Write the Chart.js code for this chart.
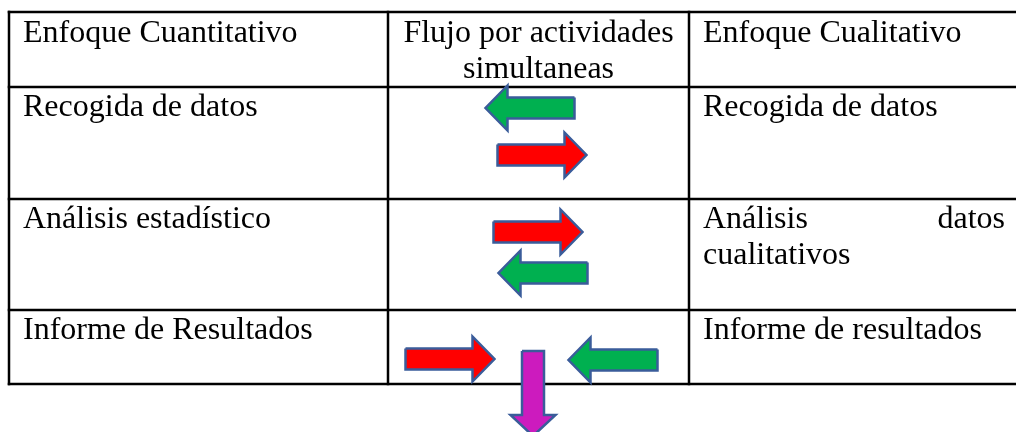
<!DOCTYPE html>
<html>
<head>
<meta charset="utf-8">
<script src="https://cdn.jsdelivr.net/npm/chart.js@4"></script>
<style>
  html, body { margin: 0; padding: 0; background: #fff; }
  #wrap { width: 1016px; height: 432px; }
</style>
</head>
<body>
<div id="wrap"><canvas id="flujoChart" width="1016" height="432"></canvas></div>
<script>
// contenido de la tabla
const encabezados = ['Enfoque Cuantitativo', 'Flujo por actividades simultaneas', 'Enfoque Cualitativo'];
const pasosCuantitativos = ['Recogida de datos', 'Análisis estadístico', 'Informe de Resultados'];
const pasosCualitativos = ['Recogida de datos', 'Análisis datos cualitativos', 'Informe de resultados'];
// sentido de las flechas en cada fila (columna central)
const flujos = [['izquierda', 'derecha'], ['derecha', 'izquierda'], ['derecha', 'izquierda']];
const flujoFinal = 'abajo';

// geometria (unidades de los ejes)
const colX = [9, 388, 689, 1020];
const rowY = [12, 87, 199, 310, 384];
const posFlechas = [
    [{ cx: 530, cy: 108 }, { cx: 542, cy: 155 }],
    [{ cx: 538, cy: 232 }, { cx: 543, cy: 273 }],
    [{ cx: 450, cy: 359 }, { cx: 613, cy: 360 }]
];
const posFinal = { cx: 533, top: 351, tip: 436 };

const colores = { derecha: '#FF0000', izquierda: '#00B050', abajo: '#CC1BBE' };
const borde = '#3A5C9A';

function flechaHorizontal(cx, cy, dir) {
    const len = 89, h = 10.5, H = 22.5, L = 22;
    const s = dir === 'derecha' ? 1 : -1;
    const x0 = cx - s * len / 2, x1 = cx + s * len / 2, xb = x1 - s * L;
    const pts = [[x0, cy - h], [xb, cy - h], [xb, cy - H], [x1, cy], [xb, cy + H], [xb, cy + h], [x0, cy + h], [x0, cy - h]];
    return pts.map(p => ({ x: p[0], y: p[1] }));
}

function flechaAbajo(cx, top, tip) {
    const w = 11, W = 22.5, L = 21, yb = tip - L;
    const pts = [[cx - w, top], [cx + w, top], [cx + w, yb], [cx + W, yb], [cx, tip], [cx - W, yb], [cx - w, yb], [cx - w, top]];
    return pts.map(p => ({ x: p[0], y: p[1] }));
}

const datasets = [];
flujos.forEach((fila, r) => {
    fila.forEach((dir, i) => {
        const p = posFlechas[r][i];
        datasets.push({
            label: dir,
            data: flechaHorizontal(p.cx, p.cy, dir),
            backgroundColor: colores[dir],
            borderColor: borde,
            borderWidth: 2.5,
            borderJoinStyle: 'miter',
            fill: 'shape',
            showLine: true,
            pointRadius: 0,
            tension: 0
        });
    });
});
datasets.push({
    label: flujoFinal,
    data: flechaAbajo(posFinal.cx, posFinal.top, posFinal.tip),
    backgroundColor: colores[flujoFinal],
    borderColor: borde,
    borderWidth: 2.5,
    borderJoinStyle: 'miter',
    fill: 'shape',
    showLine: true,
    pointRadius: 0,
    tension: 0
});

const FUENTE = '32px "Liberation Serif", "Times New Roman", serif';
const LINEA = 36;

function partirLineas(ctx, texto, ancho) {
    const palabras = texto.split(' ');
    const lineas = [];
    let actual = [];
    palabras.forEach(p => {
        const prueba = actual.concat([p]).join(' ');
        if (actual.length && ctx.measureText(prueba).width > ancho) {
            lineas.push(actual);
            actual = [p];
        } else {
            actual.push(p);
        }
    });
    if (actual.length) lineas.push(actual);
    return lineas;
}

function escribirCelda(ctx, xs, ys, texto, x0, x1, yTop, modo) {
    const ancho = x1 - x0;
    const lineas = partirLineas(ctx, texto, ancho);
    lineas.forEach((pal, k) => {
        const y = ys.getPixelForValue(yTop + 30 + k * LINEA);
        const left = xs.getPixelForValue(x0), right = xs.getPixelForValue(x1);
        const linea = pal.join(' ');
        if (modo === 'centro') {
            ctx.textAlign = 'center';
            ctx.fillText(linea, (left + right) / 2, y);
        } else if (modo === 'justificado' && k < lineas.length - 1 && pal.length > 1) {
            ctx.textAlign = 'left';
            const anchos = pal.map(w => ctx.measureText(w).width);
            const libre = (right - left) - anchos.reduce((a, b) => a + b, 0);
            const hueco = libre / (pal.length - 1);
            let x = left;
            pal.forEach((w, j) => {
                ctx.fillText(w, x, y);
                x += anchos[j] + hueco;
            });
        } else {
            ctx.textAlign = 'left';
            ctx.fillText(linea, left, y);
        }
    });
}

const tablaPlugin = {
    id: 'tabla',
    beforeDatasetsDraw(chart) {
        const ctx = chart.ctx;
        const xs = chart.scales.x, ys = chart.scales.y;
        ctx.save();
        ctx.strokeStyle = '#000';
        ctx.lineWidth = 2.5;
        ctx.lineCap = 'square';
        rowY.forEach(y => {
            ctx.beginPath();
            ctx.moveTo(xs.getPixelForValue(colX[0]), ys.getPixelForValue(y));
            ctx.lineTo(xs.getPixelForValue(colX[3]), ys.getPixelForValue(y));
            ctx.stroke();
        });
        colX.slice(0, 3).forEach(x => {
            ctx.beginPath();
            ctx.moveTo(xs.getPixelForValue(x), ys.getPixelForValue(rowY[0]));
            ctx.lineTo(xs.getPixelForValue(x), ys.getPixelForValue(rowY[4]));
            ctx.stroke();
        });

        ctx.fillStyle = '#000';
        ctx.font = FUENTE;
        ctx.textBaseline = 'alphabetic';
        escribirCelda(ctx, xs, ys, encabezados[0], colX[0] + 14, colX[1] - 8, rowY[0], 'justificado');
        escribirCelda(ctx, xs, ys, encabezados[1], colX[1] + 8, colX[2] - 8, rowY[0], 'centro');
        escribirCelda(ctx, xs, ys, encabezados[2], colX[2] + 14, 1005, rowY[0], 'justificado');
        pasosCuantitativos.forEach((t, r) => {
            escribirCelda(ctx, xs, ys, t, colX[0] + 14, colX[1] - 8, rowY[r + 1] - 1, 'justificado');
        });
        pasosCualitativos.forEach((t, r) => {
            escribirCelda(ctx, xs, ys, t, colX[2] + 14, 1005, rowY[r + 1] - 1, 'justificado');
        });
        ctx.restore();
    }
};

const chart = new Chart(document.getElementById('flujoChart').getContext('2d'), {
    type: 'scatter',
    data: { datasets: datasets },
    options: {
        responsive: false,
        animation: false,
        events: [],
        layout: { padding: 0 },
        scales: {
            x: { type: 'linear', min: 0, max: 1016, display: false },
            y: { type: 'linear', min: 0, max: 432, reverse: true, display: false }
        },
        plugins: {
            legend: { display: false },
            tooltip: { enabled: false }
        }
    },
    plugins: [tablaPlugin]
});
</script>
</body>
</html>
